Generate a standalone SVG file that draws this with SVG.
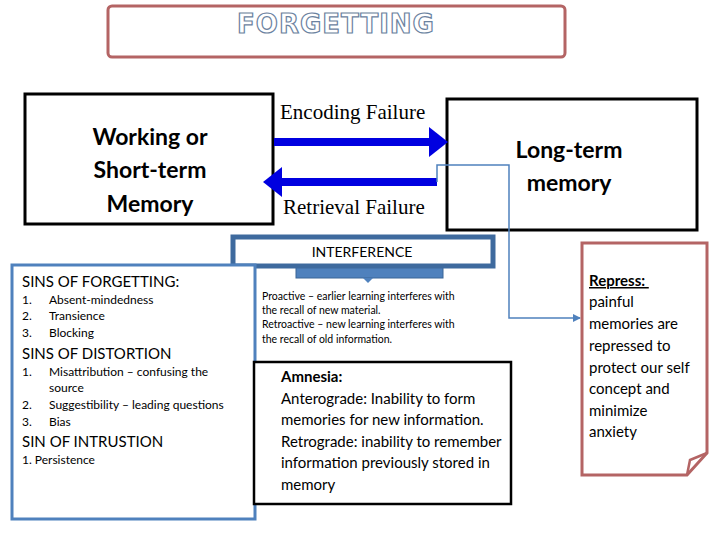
<svg xmlns="http://www.w3.org/2000/svg" width="720" height="540" viewBox="0 0 720 540">
<style>
.sb{font-family:Lato,"Open Sans",sans-serif;font-weight:bold;fill:#000}
.ser{font-family:"Liberation Serif",serif;font-size:21px;fill:#000}
.s{font-family:Lato,"Open Sans",sans-serif;fill:#000}
.box{fill:#fff;stroke:#000;stroke-width:3}
</style>
<defs>
<marker id="ah" markerWidth="8" markerHeight="8" refX="7" refY="4" orient="auto" markerUnits="userSpaceOnUse"><path d="M0,0L8,4L0,8z" fill="#4f81bd"/></marker>
</defs>
<rect width="720" height="540" fill="#fff"/>
<g id="title">
<rect x="108" y="6" width="457" height="51" rx="4" fill="#fff" stroke="#b46464" stroke-width="3"/>
<text x="336" y="33" text-anchor="middle" font-family="'DejaVu Sans',sans-serif" font-weight="bold" font-size="26" fill="#fff" stroke="#6b82a0" stroke-width="1.2" letter-spacing="1">FORGETTING</text>
</g>
<g id="working">
<rect class="box" x="25" y="94" width="248" height="130"/>
<text class="sb" font-size="23" text-anchor="middle"><tspan x="150" y="145">Working or</tspan><tspan x="150" y="178">Short-term</tspan><tspan x="150" y="212">Memory</tspan></text>
</g>
<g id="longterm">
<rect class="box" x="447" y="99" width="250" height="131"/>
<text class="sb" font-size="23" text-anchor="middle"><tspan x="569" y="158">Long-term</tspan><tspan x="569" y="191">memory</tspan></text>
</g>
<g id="connectors">
<text class="ser" x="280" y="119">Encoding Failure</text>
<text class="ser" x="283" y="214">Retrieval Failure</text>
<rect x="274" y="138" width="156" height="8" fill="#0000e0"/>
<polygon points="429,127 448,142 429,157" fill="#0000e0"/>
<rect x="280" y="178" width="157" height="8" fill="#0000e0"/>
<polygon points="282,167 263,182 282,197" fill="#0000e0"/>
<polyline points="437,182 437,165 509,165 509,318 580,318" fill="none" stroke="#4f81bd" stroke-width="1.5" marker-end="url(#ah)"/>
</g>
<g id="interference">
<rect x="296" y="263" width="147" height="15" fill="#4f81bd" stroke="#3a6496"/>
<polygon points="363,278 373,278 368,283" fill="#4f81bd"/>
<rect x="233" y="237" width="260" height="29" fill="#fff" stroke="#3e6a9e" stroke-width="5"/>
<text class="s" x="362" y="257" font-size="14" text-anchor="middle">INTERFERENCE</text>
<text class="s" font-size="10.5"><tspan x="262" y="300">Proactive – earlier learning interferes with</tspan><tspan x="262" y="314">the recall of new material.</tspan><tspan x="262" y="328">Retroactive – new learning interferes with</tspan><tspan x="262" y="343">the recall of old information.</tspan></text>
</g>
<g id="sins">
<rect x="12" y="265" width="243" height="254" fill="#fff" stroke="#4f81bd" stroke-width="3"/>
<text class="s" font-size="15"><tspan x="22" y="287">SINS OF FORGETTING:</tspan><tspan x="22" y="359">SINS OF DISTORTION</tspan><tspan x="22" y="447">SIN OF INTRUSTION</tspan></text>
<text class="s" font-size="12"><tspan x="22" y="304">1.</tspan><tspan x="49" y="304">Absent-mindedness</tspan><tspan x="22" y="320">2.</tspan><tspan x="49" y="320">Transience</tspan><tspan x="22" y="337">3.</tspan><tspan x="49" y="337">Blocking</tspan><tspan x="22" y="376">1.</tspan><tspan x="49" y="376">Misattribution – confusing the</tspan><tspan x="49" y="392">source</tspan><tspan x="22" y="409">2.</tspan><tspan x="49" y="409">Suggestibility – leading questions</tspan><tspan x="22" y="426">3.</tspan><tspan x="49" y="426">Bias</tspan><tspan x="22" y="464">1. Persistence</tspan></text>
</g>
<g id="amnesia">
<rect x="254" y="362" width="257" height="142" fill="#fff" stroke="#000" stroke-width="2.5"/>
<text class="s" font-size="15"><tspan x="281" y="382" font-weight="bold">Amnesia:</tspan><tspan x="281" y="404">Anterograde:  Inability to form</tspan><tspan x="281" y="425">memories for new information.</tspan><tspan x="281" y="447">Retrograde:  inability to remember</tspan><tspan x="281" y="468">information previously stored in</tspan><tspan x="281" y="490">memory</tspan></text>
</g>
<g id="repress">
<path d="M582,243 L707,243 L707,453 L687,475 L582,475 Z" fill="#fff" stroke="#b46464" stroke-width="3"/>
<path d="M687,475 L690,460 L707,453" fill="none" stroke="#b46464" stroke-width="2.5"/>
<text class="s" font-size="15"><tspan x="589" y="286" font-weight="bold" text-decoration="underline">Repress: </tspan><tspan x="589" y="307">painful</tspan><tspan x="589" y="329">memories are</tspan><tspan x="589" y="351">repressed to</tspan><tspan x="589" y="373">protect our self</tspan><tspan x="589" y="394">concept and</tspan><tspan x="589" y="416">minimize</tspan><tspan x="589" y="437">anxiety</tspan></text>
</g>
</svg>
